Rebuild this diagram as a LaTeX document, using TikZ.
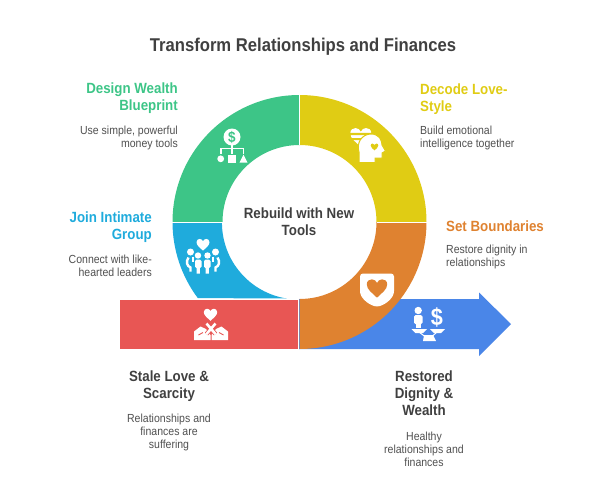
\documentclass[tikz,border=0pt]{standalone}
\usepackage{fontspec}
\setmainfont[FakeStretch=0.9]{Liberation Sans}
\definecolor{ringgreen}{HTML}{3DC587}
\definecolor{ringyellow}{HTML}{E0CC14}
\definecolor{ringorange}{HTML}{DF8230}
\definecolor{ringblue}{HTML}{1FABDC}
\definecolor{barred}{HTML}{E85654}
\definecolor{arrowblue}{HTML}{4A86E8}
\definecolor{titlegray}{HTML}{404040}
\definecolor{bodygray}{HTML}{505050}
\tikzset{
    headline/.style={font=\fontsize{14.8}{17}\selectfont\bfseries, inner sep=0pt},
    bodytext/.style={font=\fontsize{11.7}{13}\selectfont, text=bodygray, inner sep=0pt},
    gap/.style={draw=white, line width=1pt},
    pics/heartglyph/.style={code={
        \fill[pic actions] (0,0.9) .. controls (-0.45,0.45) and (-1,0.1) .. (-1,-0.4)
            .. controls (-1,-0.75) and (-0.75,-0.9) .. (-0.5,-0.9)
            .. controls (-0.25,-0.9) and (-0.1,-0.75) .. (0,-0.55)
            .. controls (0.1,-0.75) and (0.25,-0.9) .. (0.5,-0.9)
            .. controls (0.75,-0.9) and (1,-0.75) .. (1,-0.4)
            .. controls (1,0.1) and (0.45,0.45) .. (0,0.9) -- cycle;
    }}
}
\begin{document}
\begin{tikzpicture}[x=1pt,y=-1pt]
    \useasboundingbox (0,0) rectangle (606,504);

    % arrow and bar
    \fill[arrowblue] (299,299) -- (479,299) -- (479,292.5) -- (511,324) -- (479,356) -- (479,349) -- (299,349) -- cycle;
    \fill[barred] (120,299.5) rectangle (298,349);

    % ring
    \fill[ringblue] (172.5,222) arc[start angle=180,end angle=143.2,radius=127] -- (286.5,298.5) arc[start angle=99.3,end angle=180,radius=77] -- cycle;
    \fill[ringgreen] (172.5,222) arc[start angle=180,end angle=270,radius=127] -- (299.5,145) arc[start angle=270,end angle=180,radius=77] -- cycle;
    \fill[ringyellow] (299.5,95) arc[start angle=270,end angle=360,radius=127] -- (376.5,222) arc[start angle=360,end angle=270,radius=77] -- cycle;
    \fill[ringorange] (426.5,222) arc[start angle=0,end angle=90,radius=127] -- (299.5,299) arc[start angle=90,end angle=0,radius=77] -- cycle;
    \draw[gap] (172,222) -- (222.5,222);
    \draw[gap] (299.5,95) -- (299.5,145);
    \draw[gap] (376.5,222) -- (427,222);
    \draw[gap] (298.7,299) -- (298.7,349.5);

    % green icon
    \fill[white] (232,137) circle (8.5);
    \node[text=ringgreen, inner sep=0pt, font=\fontsize{15}{15}\selectfont\bfseries] (dollarcoin) at (232,137) {\$};
    \draw[white, line width=1.6pt] (232,145) -- (232,154) (220.7,154) -- (220.7,148.5) -- (243.5,148.5) -- (243.5,154);
    \fill[white] (220.7,158.8) circle (3.4);
    \fill[white] (228,155) rectangle (236,162.5);
    \fill[white] (243.5,154.5) -- (247.5,162.5) -- (239.5,162.5) -- cycle;

    % yellow icon
    \path[fill=white] (360.8,137.5) pic[scale=10.5] {heartglyph};
    \fill[ringyellow] (349,132.8) rectangle (373,135) (349,138) rectangle (373,140.2);
    \fill[white, draw=ringyellow, line width=1pt] (359,162.5) -- (359,152) .. controls (356,143) and (362,134) .. (371,134)
        .. controls (379,134) and (382,140) .. (382,145) -- (385.5,151) -- (382,153) -- (382,158) -- (375,158) -- (375,162.5) -- cycle;
    \path[fill=ringyellow] (374.5,147) pic[scale=3.8] {heartglyph};

    % blue icon
    \path[fill=white] (203,244.8) pic[scale=6.5] {heartglyph};
    \fill[white] (190.5,252) circle (3.5) (215.5,252) circle (3.5) (198,255.5) circle (3.2) (207.5,255.5) circle (3.2);
    \fill[white, rounded corners=1.5pt] (195,259.5) rectangle (201.5,268) (204,259.5) rectangle (210.5,268);
    \fill[white] (196.7,266) rectangle (199.8,273.5) (205.7,266) rectangle (208.8,273.5);
    \draw[white, line width=2.4pt] (188.5,257.5) .. controls (185.5,262) and (187,266) .. (190.5,267.5) -- (190.5,271.5);
    \draw[white, line width=2.4pt] (217.5,257.5) .. controls (220.5,262) and (219,266) .. (215.5,267.5) -- (215.5,271.5);
    \draw[white, line width=1.6pt] (193,256.5) -- (193,262) (213,256.5) -- (213,262);

    % red icon
    \path[fill=white] (210.5,314.8) pic[scale=6.7] {heartglyph};
    \fill[white] (194,340) -- (194,331.5) -- (200.5,326.5) -- (206,329) -- (210.5,335) -- (210.5,340) -- cycle;
    \fill[white] (228,340) -- (228,331.5) -- (221.5,326.5) -- (216,329) -- (211.5,335) -- (211.5,340) -- cycle;
    \draw[barred, line width=4.2pt] (206.5,323.5) -- (215.5,334) (215.5,323.5) -- (206.5,334);
    \draw[white, line width=2.6pt] (206.5,323.5) -- (215.5,334) (215.5,323.5) -- (206.5,334);
    \draw[barred, line width=0.9pt] (198.5,335) -- (203,332.5) (223.5,335) -- (219,332.5);

    % orange icon
    \fill[white, rounded corners=3pt] (360,273.5) -- (394,273.5) -- (394,288) .. controls (394,298) and (386,304) .. (377,307)
        .. controls (368,304) and (360,298) .. (360,288) -- cycle;
    \path[fill=ringorange] (377,288.5) pic[scale=10.2] {heartglyph};

    % arrow icon
    \fill[white] (418.2,310.5) circle (3.7);
    \fill[white, rounded corners=1.5pt] (414,315) rectangle (422.5,324);
    \fill[white] (415.5,323) rectangle (421,328);
    \node[text=white, inner sep=0pt, font=\fontsize{24}{24}\selectfont\bfseries] (dollarsign) at (437,317.5) {\$};
    \fill[white] (411.5,329) -- (427,329) -- (423,333) -- (415.5,333) -- cycle;
    \fill[white] (430,329) -- (445,329) -- (441,333) -- (434,333) -- cycle;
    \fill[white] (424,335) -- (433,335) -- (436,341) -- (423,341) -- cycle;
    \draw[white, line width=1pt] (419,332) -- (425,336.5) (437,332) -- (432,336.5);

    % texts
    \node[font=\fontsize{18.5}{20}\selectfont\bfseries, text=titlegray, inner sep=0pt] (title) at (303,47) {Transform Relationships and Finances};
    \node[headline, text=titlegray, align=center] (hub) at (299,222) {Rebuild with New\\Tools};

    \node[headline, text=ringgreen, align=right, anchor=east] (wealth) at (178,98.5) {Design Wealth\\Blueprint};
    \node[bodytext, align=right, anchor=east] (wealthtext) at (178,138) {Use simple, powerful\\money tools};

    \node[headline, text=ringyellow, align=left, anchor=west] (style) at (420,99) {Decode Love-\\Style};
    \node[bodytext, align=left, anchor=west] (styletext) at (420,138) {Build emotional\\intelligence together};

    \node[headline, text=ringblue, align=right, anchor=east] (group) at (152,227) {Join Intimate\\Group};
    \node[bodytext, align=right, anchor=east] (grouptext) at (152,265.5) {Connect with like-\\hearted leaders};

    \node[headline, text=ringorange, anchor=west] (bounds) at (446,226) {Set Boundaries};
    \node[bodytext, align=left, anchor=west] (boundstext) at (446,257) {Restore dignity in\\relationships};

    \node[headline, text=titlegray, align=center] (stale) at (169,386) {Stale Love \&\\Scarcity};
    \node[bodytext, align=center] (staletext) at (169,432.5) {Relationships and\\finances are\\suffering};

    \node[headline, text=titlegray, align=center] (restored) at (424,393.5) {Restored\\Dignity \&\\Wealth};
    \node[bodytext, align=center] (restoredtext) at (424,449) {Healthy\\relationships and\\finances};
\end{tikzpicture}
\end{document}
